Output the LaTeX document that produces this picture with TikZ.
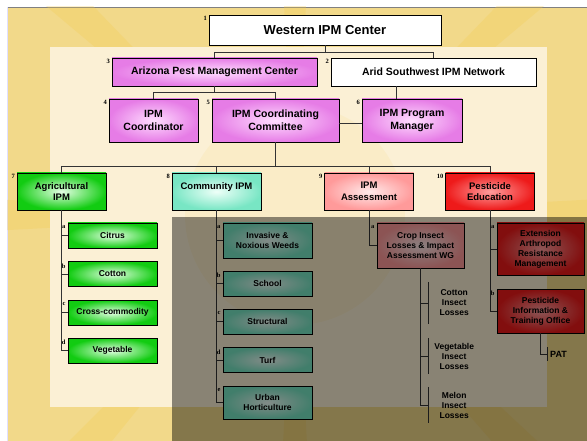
\documentclass[tikz,border=0pt]{standalone}
\usepackage{fontspec}
\setmainfont{Liberation Sans}
\newfontfamily\numfont{Liberation Serif}
\usetikzlibrary{positioning}
\definecolor{bgyellow}{HTML}{F2D98A}
\definecolor{cream}{HTML}{FBF0D5}
\definecolor{raycol}{HTML}{F5CC50}
\definecolor{magout}{HTML}{E67CE6}
\definecolor{magin}{HTML}{FFDDFF}
\definecolor{grnout}{HTML}{12CC12}
\definecolor{grnin}{HTML}{E4FFE4}
\definecolor{aquaout}{HTML}{78E6C4}
\definecolor{aquain}{HTML}{EEFFF8}
\definecolor{pinkout}{HTML}{FF9A9A}
\definecolor{pinkin}{HTML}{FFEAEA}
\definecolor{redout}{HTML}{EE1A1A}
\definecolor{redin}{HTML}{FF9C9C}
\definecolor{linecol}{HTML}{333333}

\begin{document}
\begin{tikzpicture}[x=1pt,y=-1pt,
    box/.style={draw=black,line width=0.8pt,align=center,inner sep=0pt},
    big/.style={font={\fontsize{10.5}{13}\selectfont\bfseries}},
    mid/.style={minimum width=89pt,minimum height=37pt,font={\fontsize{9.5}{11.5}\selectfont\bfseries}},
    sub/.style={font={\fontsize{8.5}{10}\selectfont\bfseries}},
    plainbox/.style={box,fill=white},
    magbox/.style={box,inner color=magin,outer color=magout},
    grnbox/.style={box,inner color=grnin,outer color=grnout},
    aquabox/.style={box,inner color=aquain,outer color=aquaout},
    pinkbox/.style={box,inner color=pinkin,outer color=pinkout},
    redbox/.style={box,inner color=redin,outer color=redout},
    lossbox/.style={anchor=west,minimum width=52pt,align=center,inner sep=0pt,sub},
    num/.style={anchor=north east,inner sep=0.5pt,xshift=-1pt,yshift=-1pt,
      font={\numfont\bfseries\fontsize{6.5}{7}\selectfont}},
    let/.style={anchor=north east,inner sep=0.5pt,xshift=-1.5pt,yshift=-2pt,
      font={\numfont\bfseries\fontsize{6.5}{7}\selectfont}},
    conn/.style={draw=linecol,line width=0.9pt}]
  \useasboundingbox (0,0) rectangle (587,441);
  % background and sun
  \fill[white] (0,0) rectangle (587,441);
  \fill[bgyellow] (7,7) rectangle (587,441);
  \draw[gray,line width=0.6pt] (7,7) -- (587,7);
  \draw[blue!12,line width=0.6pt] (7,7) -- (7,441);
  \begin{scope}
    \clip (7,7) rectangle (587,441);
    \foreach \a in {0,43,90,137,180,228,270,314}
      \fill[raycol,opacity=0.28] (295,215) -- +(\a-3:420pt) -- +(\a+3:420pt) -- cycle;
  \end{scope}
  \fill[cream] (50,47) rectangle (547,407);
  \fill[raycol,opacity=0.1] (295,215) circle[radius=110pt];

  % top levels
  \node[plainbox,minimum width=232pt,minimum height=30pt,font={\fontsize{13}{15}\selectfont\bfseries},
    label={[num]north west:1}] (wipm) at (325,30) {Western IPM Center};
  \node[magbox,big,minimum width=205pt,minimum height=28pt,label={[num]north west:3}] (azpmc) at (214.5,72) {Arizona Pest Management Center};
  \node[plainbox,big,minimum width=205pt,minimum height=28pt,label={[num]north west:2}] (aswn) at (433.5,72) {Arid Southwest IPM Network};
  \node[magbox,big,minimum width=89pt,minimum height=43pt,label={[num]north west:4}] (coord) at (153.5,120.5) {IPM\\Coordinator};
  \node[magbox,big,minimum width=127pt,minimum height=43pt,label={[num]north west:5}] (comm) at (275.5,120.5) {IPM Coordinating\\Committee};
  \node[magbox,big,minimum width=100pt,minimum height=43pt,label={[num]north west:6}] (pmgr) at (412,120.5) {IPM Program\\Manager};

  \node[grnbox,mid,label={[num]north west:7}] (agipm) at (61.5,191.5) {Agricultural\\IPM};
  \node[aquabox,mid,label={[num]north west:8}] (cipm) at (216.5,191.5) {Community IPM\\\phantom{I}};
  \node[pinkbox,mid,label={[num]north west:9}] (ipma) at (369,191.5) {IPM\\Assessment};
  \node[redbox,mid,label={[num]north west:10}] (pested) at (490,191.5) {Pesticide\\Education};

  % agricultural
  \node[grnbox,sub,minimum width=89pt,minimum height=25pt,label={[let]north west:a}] (citrus) at (112.5,235.5) {Citrus};
  \node[grnbox,sub,minimum width=89pt,minimum height=25pt,label={[let]north west:b}] (cotton) at (112.5,274) {Cotton};
  \node[grnbox,sub,minimum width=89pt,minimum height=25pt,label={[let]north west:c}] (cross) at (112.5,312.5) {Cross-commodity};
  \node[grnbox,sub,minimum width=89pt,minimum height=25pt,label={[let]north west:d}] (veg) at (112.5,350.5) {Vegetable};

  % community
  \node[aquabox,sub,minimum width=89pt,minimum height=35pt,label={[let]north west:a}] (invasive) at (267.5,240.5) {Invasive \&\\Noxious Weeds};
  \node[aquabox,sub,minimum width=89pt,minimum height=25pt,label={[let]north west:b}] (school) at (267.5,283.5) {School};
  \node[aquabox,sub,minimum width=89pt,minimum height=25pt,label={[let]north west:c}] (struct) at (267.5,321.5) {Structural};
  \node[aquabox,sub,minimum width=89pt,minimum height=25pt,label={[let]north west:d}] (turf) at (267.5,360) {Turf};
  \node[aquabox,sub,minimum width=89pt,minimum height=33pt,label={[let]north west:e}] (urban) at (267.5,402.5) {Urban\\Horticulture};

  % assessment
  \node[pinkbox,sub,minimum width=87pt,minimum height=45pt,label={[let]north west:a}] (wg) at (420.5,245.5) {Crop Insect\\Losses \& Impact\\Assessment WG};
  \node[lossbox,minimum height=42pt] (cotloss) at (428,303) {Cotton\\Insect\\Losses};
  \node[lossbox,minimum height=35pt] (vegloss) at (428,356) {Vegetable\\Insect\\Losses};
  \node[lossbox,minimum height=36pt] (melloss) at (428,405) {Melon\\Insect\\Losses};

  % education
  \node[redbox,sub,minimum width=87pt,minimum height=52pt,label={[let]north west:a}] (ext) at (540.5,249) {Extension\\Arthropod\\Resistance\\Management};
  \node[redbox,sub,minimum width=87pt,minimum height=44pt,label={[let]north west:b}] (pit) at (540.5,311) {Pesticide\\Information \&\\Training Office};
  \node[anchor=west,inner xsep=3pt,inner ysep=0pt,minimum height=14pt,font={\fontsize{9}{10}\selectfont\bfseries}] (pat) at (547,354) {PAT};

  % connectors
  \draw[conn] (wipm.south) -- ([yshift=-7pt]wipm.south);
  \draw[conn] (azpmc.north) |- ([yshift=-7pt]wipm.south) -| (aswn.north);
  \draw[conn] (azpmc.south) -- ([yshift=-6pt]azpmc.south);
  \draw[conn] (coord.north) |- ([yshift=-6pt]azpmc.south) -| (comm.north);
  \draw[conn] ([xshift=35pt]pmgr.north west) -- ([xshift=35pt]pmgr.north west |- aswn.south);
  \draw[conn] ([yshift=-2.5pt]comm.east) -- ([yshift=-2.5pt]pmgr.west);
  \draw[conn] (comm.south) -- ([yshift=-24pt]comm.south);
  \draw[conn] (agipm.north) |- ([yshift=-24pt]comm.south) -| (pested.north);
  \foreach \n in {cipm,ipma}
    \draw[conn] (\n.north) -- ++(0,-7);

  \draw[conn] (agipm.south) |- (veg.west);
  \foreach \n in {citrus,cotton,cross}
    \draw[conn] (agipm.south |- \n.west) -- (\n.west);
  \draw[conn] (cipm.south) |- (urban.west);
  \foreach \n in {invasive,school,struct,turf}
    \draw[conn] (cipm.south |- \n.west) -- (\n.west);
  \draw[conn] (ipma.south) |- (wg.west);
  \draw[conn] (wg.south) |- (melloss.west);
  \foreach \n in {cotloss,vegloss}
    \draw[conn] (wg.south |- \n.west) -- (\n.west);
  \foreach \n in {cotloss,vegloss,melloss}
    \draw[conn] (\n.north west) -- (\n.south west);
  \draw[conn] (pested.south) |- (pit.west);
  \draw[conn] (pested.south |- ext.west) -- (ext.west);
  \draw[conn] (pit.south) |- (pat.west);
  \draw[conn] (pat.north west) -- (pat.south west);

  % shaded panel
  \fill[black,opacity=0.45] (172,217) rectangle (587,441);
\end{tikzpicture}
\end{document}
